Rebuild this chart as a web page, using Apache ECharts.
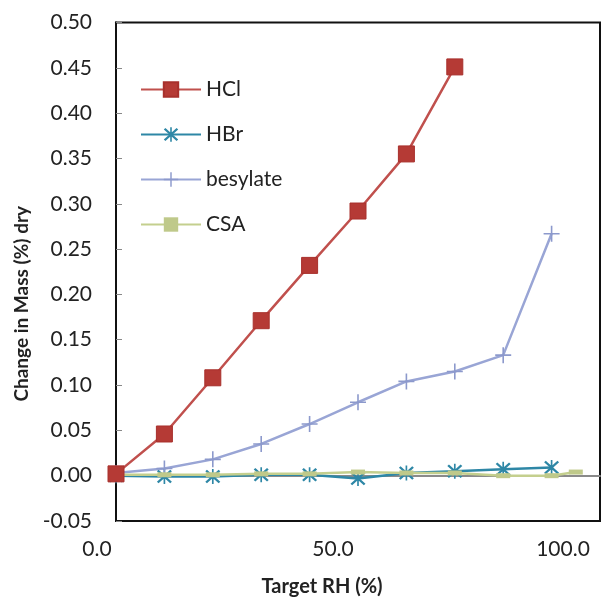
<!DOCTYPE html>
<html>
<head>
<meta charset="utf-8">
<script src="https://cdn.jsdelivr.net/npm/echarts@6/dist/echarts.min.js"></script>
<style>
html,body{margin:0;padding:0;background:#fff;}
#chart{width:613px;height:604px;}
</style>
</head>
<body>
<div id="chart"></div>
<script>
// ---- data ----
const rhHCl = [0, 10, 20, 30, 40, 50, 60, 70];
const massHCl = [0.002, 0.046, 0.108, 0.171, 0.232, 0.292, 0.355, 0.451];

const rhHBr = [0, 10, 20, 30, 40, 50, 60, 70, 80, 90];
const massHBr = [0.000, -0.001, -0.001, 0.001, 0.001, -0.003, 0.003, 0.005, 0.007, 0.009];

const rhBesylate = [0, 10, 20, 30, 40, 50, 60, 70, 80, 90];
const massBesylate = [0.003, 0.008, 0.018, 0.035, 0.057, 0.081, 0.104, 0.115, 0.133, 0.267];

const rhCSA = [0, 10, 20, 30, 40, 50, 60, 70, 80, 90, 95];
const massCSA = [0.001, 0.001, 0.001, 0.002, 0.002, 0.004, 0.003, 0.003, 0.000, 0.000, 0.004];

const seriesNames = ['HCl', 'HBr', 'besylate', 'CSA'];
const xTickLabels = ['0.0', '50.0', '100.0'];

function pairs(xs, ys) { return xs.map((x, i) => [x, ys[i]]); }

const FONT = 'Lato, "Open Sans", sans-serif';
const starPath = 'path://M9,0L11,0L11,20L9,20Z M1,3L3,1L19,17L17,19Z M17,1L19,3L3,19L1,17Z';
const plusPath = 'path://M9,0L11,0L11,9L20,9L20,11L11,11L11,20L9,20L9,11L0,11L0,9L9,9Z';

const chart = echarts.init(document.getElementById('chart'));
chart.setOption({
  animation: false,
  backgroundColor: '#ffffff',
  textStyle: { fontFamily: FONT },
  grid: { left: 116, right: 13, top: 22.5, bottom: 83, show: true, borderColor: '#111', borderWidth: 2 },
  legend: {
    orient: 'vertical', left: 135, top: 74, itemGap: 24,
    itemWidth: 60, itemHeight: 18,
    textStyle: { fontSize: 21, color: '#222', fontFamily: FONT },
    data: seriesNames
  },
  xAxis: [{
    type: 'value', min: 0, max: 100, interval: 50,
    name: 'Target RH (%)', nameLocation: 'middle', nameGap: 56,
    nameTextStyle: { fontSize: 20, fontWeight: 'bold', color: '#222', padding: [0, 72, 0, 0] },
    axisLine: { onZero: false, lineStyle: { color: '#111', width: 2 } },
    axisTick: { show: false },
    splitLine: { show: false },
    axisLabel: {
      margin: 18, fontSize: 21, color: '#222',
      formatter: function (v) {
        const i = Math.round(v / 50);
        return '{l' + i + '|' + xTickLabels[i] + '}';
      },
      rich: {
        l0: { fontSize: 21, color: '#222', padding: [0, 38, 0, 0] },
        l1: { fontSize: 21, color: '#222', padding: [0, 50, 0, 0] },
        l2: { fontSize: 21, color: '#222', padding: [0, 74, 0, 0] }
      }
    }
  }, {
    type: 'value', min: 0, max: 100, position: 'bottom',
    axisLine: { onZero: true, lineStyle: { color: '#8a8a8a', width: 2 } },
    axisTick: { show: false }, axisLabel: { show: false }, splitLine: { show: false }
  }],
  yAxis: {
    type: 'value', min: -0.05, max: 0.5, interval: 0.05,
    name: 'Change in Mass (%) dry', nameLocation: 'middle', nameGap: 84, nameRotate: 90,
    nameTextStyle: { fontSize: 19, fontWeight: 'bold', color: '#222', padding: [0, 64, 0, 0] },
    axisLine: { lineStyle: { color: '#111', width: 2 } },
    axisTick: { show: true, inside: true, length: 6, lineStyle: { color: '#888' } },
    splitLine: { show: false },
    axisLabel: { margin: 24, fontSize: 21, color: '#222', formatter: v => v.toFixed(2) }
  },
  series: [
    {
      name: 'HCl', type: 'line', z: 5, data: pairs(rhHCl, massHCl),
      symbol: 'rect', symbolSize: 16,
      lineStyle: { color: '#C0504D', width: 2.5 },
      itemStyle: { color: '#B53A35', borderColor: '#A8302C', borderWidth: 1 }
    },
    {
      name: 'HBr', type: 'line', z: 3, data: pairs(rhHBr, massHBr),
      symbol: starPath, symbolSize: 15,
      lineStyle: { color: '#2E87A6', width: 2.5 },
      itemStyle: { color: '#2E87A6' }
    },
    {
      name: 'besylate', type: 'line', z: 3, data: pairs(rhBesylate, massBesylate),
      symbol: plusPath, symbolSize: 16,
      lineStyle: { color: '#99A5D5', width: 2.5 },
      itemStyle: { color: '#8C99CC' }
    },
    {
      name: 'CSA', type: 'line', z: 4, data: pairs(rhCSA, massCSA),
      symbol: 'rect', symbolSize: [14, 5],
      lineStyle: { color: '#C4CF8E', width: 2.5 },
      itemStyle: { color: '#BFC98A' }
    }
  ]
});
</script>
</body>
</html>
